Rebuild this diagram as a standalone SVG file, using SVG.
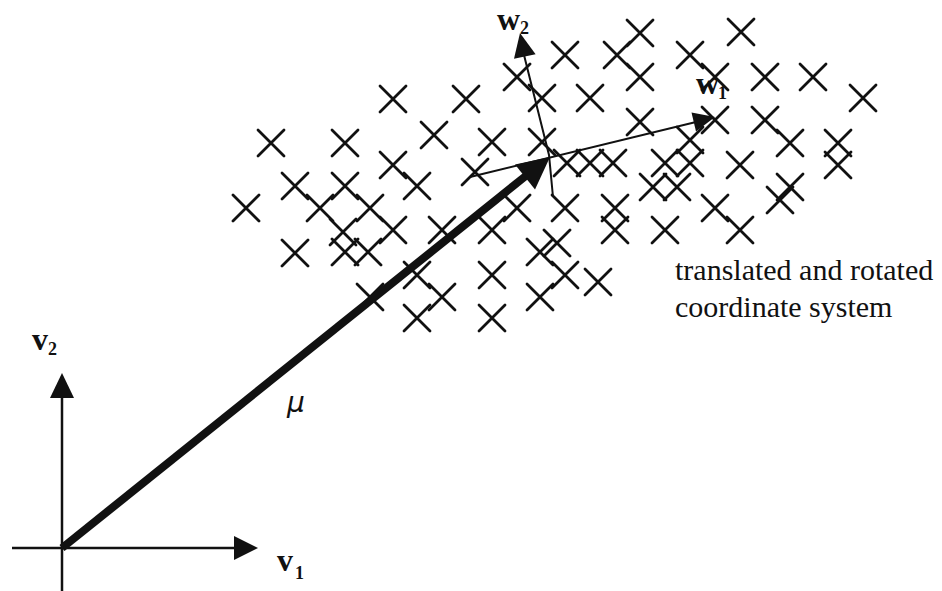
<svg xmlns="http://www.w3.org/2000/svg" xmlns:xlink="http://www.w3.org/1999/xlink" width="942" height="591" viewBox="0 0 942 591">
<style>
.pt{fill:none;stroke:#111;stroke-width:2.8;stroke-linecap:round}
.ax{fill:none;stroke:#111;stroke-width:2.5}
.thin{fill:none;stroke:#111;stroke-width:2}
.head{fill:#111;stroke:none}
.lab{font-family:"Liberation Serif",serif;font-weight:bold;fill:#111}
.txt{font-family:"Liberation Serif",serif;font-size:30px;fill:#111}
</style>
<defs>
<path id="x" d="M-13,-13L13,13M-13,13L13,-13"/>
</defs>
<rect width="942" height="591" fill="#fff"/>
<g id="points" class="pt">
<use xlink:href="#x" x="741" y="32"/>
<use xlink:href="#x" x="690" y="55"/>
<use xlink:href="#x" x="715" y="77"/>
<use xlink:href="#x" x="640" y="33"/>
<use xlink:href="#x" x="617" y="55"/>
<use xlink:href="#x" x="640" y="77"/>
<use xlink:href="#x" x="565" y="55"/>
<use xlink:href="#x" x="517" y="77"/>
<use xlink:href="#x" x="542" y="98"/>
<use xlink:href="#x" x="590" y="98"/>
<use xlink:href="#x" x="466" y="99"/>
<use xlink:href="#x" x="393" y="99"/>
<use xlink:href="#x" x="271" y="143"/>
<use xlink:href="#x" x="345" y="143"/>
<use xlink:href="#x" x="434" y="135"/>
<use xlink:href="#x" x="492" y="142"/>
<use xlink:href="#x" x="542" y="142"/>
<use xlink:href="#x" x="640" y="122"/>
<use xlink:href="#x" x="715" y="120"/>
<use xlink:href="#x" x="765" y="77"/>
<use xlink:href="#x" x="813" y="77"/>
<use xlink:href="#x" x="863" y="98"/>
<use xlink:href="#x" x="765" y="120"/>
<use xlink:href="#x" x="790" y="143"/>
<use xlink:href="#x" x="838" y="143"/>
<use xlink:href="#x" x="838" y="165"/>
<use xlink:href="#x" x="740" y="165"/>
<use xlink:href="#x" x="790" y="187"/>
<use xlink:href="#x" x="780" y="200"/>
<use xlink:href="#x" x="715" y="208"/>
<use xlink:href="#x" x="740" y="230"/>
<use xlink:href="#x" x="665" y="230"/>
<use xlink:href="#x" x="246" y="208"/>
<use xlink:href="#x" x="295" y="186"/>
<use xlink:href="#x" x="345" y="186"/>
<use xlink:href="#x" x="320" y="208"/>
<use xlink:href="#x" x="370" y="208"/>
<use xlink:href="#x" x="343" y="232"/>
<use xlink:href="#x" x="393" y="230"/>
<use xlink:href="#x" x="295" y="253"/>
<use xlink:href="#x" x="345" y="252"/>
<use xlink:href="#x" x="368" y="252"/>
<use xlink:href="#x" x="393" y="165"/>
<use xlink:href="#x" x="417" y="186"/>
<use xlink:href="#x" x="475" y="172"/>
<use xlink:href="#x" x="442" y="230"/>
<use xlink:href="#x" x="492" y="230"/>
<use xlink:href="#x" x="517" y="208"/>
<use xlink:href="#x" x="565" y="208"/>
<use xlink:href="#x" x="615" y="208"/>
<use xlink:href="#x" x="615" y="230"/>
<use xlink:href="#x" x="540" y="252"/>
<use xlink:href="#x" x="557" y="243"/>
<use xlink:href="#x" x="565" y="275"/>
<use xlink:href="#x" x="540" y="297"/>
<use xlink:href="#x" x="598" y="282"/>
<use xlink:href="#x" x="492" y="275"/>
<use xlink:href="#x" x="492" y="318"/>
<use xlink:href="#x" x="417" y="275"/>
<use xlink:href="#x" x="442" y="297"/>
<use xlink:href="#x" x="417" y="318"/>
<use xlink:href="#x" x="370" y="297"/>
<use xlink:href="#x" x="567" y="163"/>
<use xlink:href="#x" x="590" y="163"/>
<use xlink:href="#x" x="613" y="163"/>
<use xlink:href="#x" x="690" y="140"/>
<use xlink:href="#x" x="665" y="163"/>
<use xlink:href="#x" x="690" y="163"/>
<use xlink:href="#x" x="653" y="187"/>
<use xlink:href="#x" x="677" y="187"/>
</g>
<g id="connectors">
<g id="axis-v1">
<line class="ax" x1="12" y1="548" x2="236" y2="548"/>
<polygon class="head" points="258,548 234,536 234,560"/>
</g>
<g id="axis-v2">
<line class="ax" x1="62" y1="591" x2="62" y2="396"/>
<polygon class="head" points="62,373 50,398 74,398"/>
</g>
<g id="mu-arrow">
<line fill="none" stroke="#111" stroke-width="8" x1="62" y1="548" x2="527" y2="175"/>
<polygon class="head" points="550,157 535,189.5 515,164.5"/>
</g>
<g id="w1-arrow">
<line class="thin" x1="470" y1="177" x2="696" y2="122"/>
<polygon class="head" points="715,117 696,131.5 691.5,112.5"/>
</g>
<g id="w2-arrow">
<polyline class="thin" points="524,55 549,155 553,197"/>
<polygon class="head" points="520,33 535.6,54.3 514,58.7"/>
</g>
</g>
<g id="labels">
<text class="lab" x="32" y="350" font-size="32">v</text>
<text class="lab" x="48" y="355" font-size="18">2</text>
<text class="lab" x="277" y="571" font-size="32">v</text>
<text class="lab" x="295" y="579" font-size="18">1</text>
<text class="lab" x="497" y="30" font-size="32">w</text>
<text class="lab" x="520" y="34" font-size="18">2</text>
<text class="lab" x="696" y="94" font-size="32">w</text>
<text class="lab" x="718" y="99" font-size="18">1</text>
<text x="287" y="412" font-family="DejaVu Sans, sans-serif" font-style="italic" font-size="28" fill="#111">μ</text>
<text class="txt" x="675" y="280">translated and rotated</text>
<text class="txt" x="675" y="317">coordinate system</text>
</g>
</svg>
